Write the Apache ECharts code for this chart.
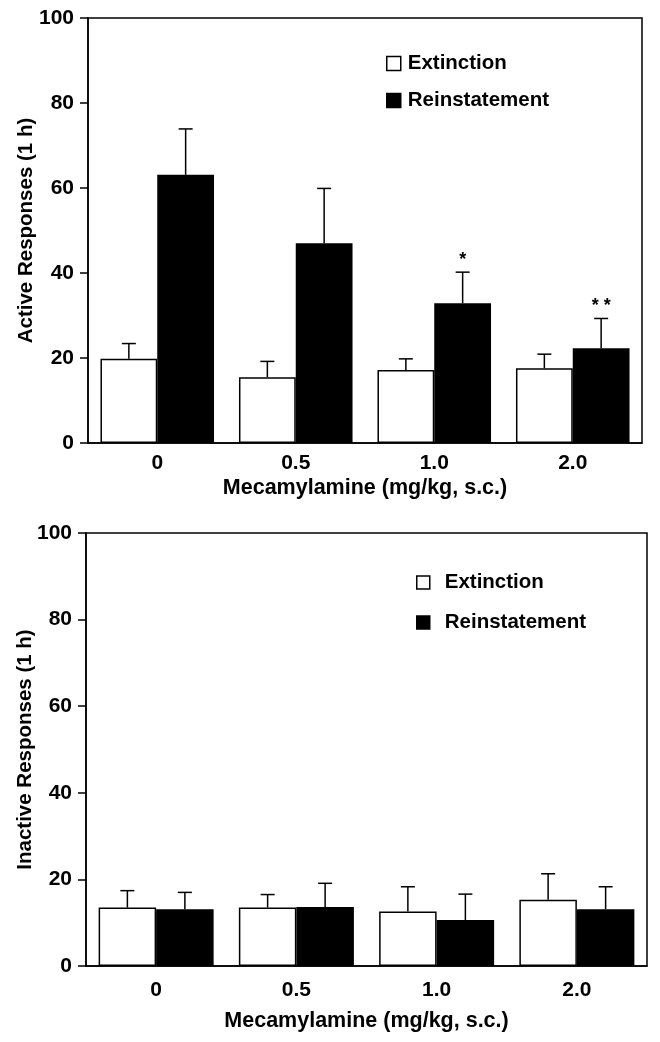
<!DOCTYPE html>
<html>
<head>
<meta charset="utf-8">
<script src="https://cdn.jsdelivr.net/npm/echarts@6/dist/echarts.min.js"></script>
<style>
html,body{margin:0;padding:0;background:#fff;}
#c{width:660px;height:1042px;}
</style>
</head>
<body>
<div id="c"></div>
<script>
var categories = ['0', '0.5', '1.0', '2.0'];
var seriesNames = ['Extinction', 'Reinstatement'];
var yTicks = [0, 20, 40, 60, 80, 100];

// Top panel: Active responses
var activeExt = [19.8, 15.5, 17.2, 17.6];
var activeExtSem = [3.6, 3.7, 2.6, 3.3];
var activeRein = [63.1, 47.0, 32.9, 22.3];
var activeReinSem = [10.8, 12.9, 7.3, 7.0];
var activeSig = ['', '', '*', '* *'];

// Bottom panel: Inactive responses
var inactiveExt = [13.5, 13.5, 12.6, 15.3];
var inactiveExtSem = [3.9, 3.0, 5.7, 6.0];
var inactiveRein = [13.1, 13.6, 10.6, 13.1];
var inactiveReinSem = [3.9, 5.5, 6.0, 5.2];
var inactiveSig = ['', '', '', ''];

var FONT = '"Liberation Sans", Arial, Helvetica, sans-serif';
var GAP = 0.18;

function errData(ext, extSem, rein, reinSem) {
  var out = [];
  for (var i = 0; i < categories.length; i++) {
    out.push([i, ext[i], extSem[i], 0]);
    out.push([i, rein[i], reinSem[i], 1]);
  }
  return out;
}

function makeRender(sigArr) {
  return function (params, api) {
    var idx = api.value(0), mean = api.value(1), sem = api.value(2), side = api.value(3);
    var base = api.coord([idx, mean]);
    var top = api.coord([idx, mean + sem]);
    var band = api.size([1, 0])[0];
    var barW = band * (1 - GAP) / 2;
    var x = base[0] + (side === 0 ? -barW / 2 : barW / 2);
    var cap = 7;
    var children = [
      {type: 'line', shape: {x1: x, y1: base[1], x2: x, y2: top[1]}, style: {stroke: '#000', lineWidth: 1.5}},
      {type: 'line', shape: {x1: x - cap, y1: top[1], x2: x + cap, y2: top[1]}, style: {stroke: '#000', lineWidth: 1.5}}
    ];
    var sig = side === 1 ? sigArr[idx] : '';
    if (sig) {
      children.push({type: 'text', style: {text: sig, x: x, y: top[1] - 3, align: 'center', verticalAlign: 'bottom',
        font: 'bold 18px ' + FONT, fill: '#000'}});
    }
    return {type: 'group', children: children};
  };
}

function yAxis(gi, name, gap) {
  return {
    type: 'value', gridIndex: gi, min: 0, max: 100, interval: 20,
    name: name, nameLocation: 'middle', nameGap: gap, nameRotate: 90, nameMoveOverlap: false,
    nameTextStyle: {fontFamily: FONT, fontWeight: 'bold', fontSize: 20.5, color: '#000'},
    axisLine: {show: true, lineStyle: {color: '#000', width: 1.5}},
    axisTick: {show: true, length: 8, lineStyle: {color: '#000', width: 1.5}},
    axisLabel: {fontFamily: FONT, fontWeight: 'bold', fontSize: 21, color: '#000', margin: 14,
      formatter: function (v) { return yTicks.indexOf(v) >= 0 ? String(v) : ''; }},
    splitLine: {show: false}
  };
}

function xAxis(gi, margin, gap) {
  return {
    type: 'category', gridIndex: gi, data: categories,
    name: 'Mecamylamine (mg/kg, s.c.)', nameLocation: 'middle', nameGap: gap,
    nameTextStyle: {fontFamily: FONT, fontWeight: 'bold', fontSize: 21.5, color: '#000'},
    axisLine: {show: true, lineStyle: {color: '#000', width: 1.5}},
    axisTick: {show: false},
    axisLabel: {fontFamily: FONT, fontWeight: 'bold', fontSize: 21, color: '#000', margin: margin},
    splitLine: {show: false}
  };
}

function barSeries(name, data, gi, fill) {
  return {
    type: 'bar', name: name, xAxisIndex: gi, yAxisIndex: gi, data: data,
    barGap: '0%', barCategoryGap: (GAP * 100) + '%',
    itemStyle: {color: fill, borderColor: '#000', borderWidth: 1.5},
    emphasis: {disabled: true}, animation: false
  };
}

function legendData() {
  return [
    {name: seriesNames[0], itemStyle: {color: '#fff', borderColor: '#000', borderWidth: 1.5}},
    {name: seriesNames[1], itemStyle: {color: '#000', borderColor: '#000', borderWidth: 1.5}}
  ];
}

var option = {
  backgroundColor: '#fff',
  animation: false,
  grid: [
    {left: 88, top: 18, width: 554, height: 425, show: true, borderColor: '#000', borderWidth: 1.5, containLabel: false},
    {left: 86, top: 533, width: 561, height: 433, show: true, borderColor: '#000', borderWidth: 1.5, containLabel: false}
  ],
  legend: [
    {left: 386, top: 53, padding: 0, orient: 'vertical', icon: 'rect', itemWidth: 14, itemHeight: 14, itemGap: 16, selectedMode: false,
      textStyle: {fontFamily: FONT, fontWeight: 'bold', fontSize: 20.5, color: '#000', padding: [0, 0, 0, 2]},
      data: legendData()},
    {left: 416, top: 572, padding: 0, orient: 'vertical', icon: 'rect', itemWidth: 13, itemHeight: 13, itemGap: 19, selectedMode: false,
      textStyle: {fontFamily: FONT, fontWeight: 'bold', fontSize: 20.5, color: '#000', padding: [0, 0, 0, 10]},
      data: legendData()}
  ],
  xAxis: [xAxis(0, 10, 34), xAxis(1, 14, 44)],
  yAxis: [yAxis(0, 'Active Responses (1 h)', 51), yAxis(1, 'Inactive Responses (1 h)', 50)],
  series: [
    barSeries(seriesNames[0], activeExt, 0, '#fff'),
    barSeries(seriesNames[1], activeRein, 0, '#000'),
    barSeries(seriesNames[0], inactiveExt, 1, '#fff'),
    barSeries(seriesNames[1], inactiveRein, 1, '#000'),
    {type: 'custom', name: 'err1', xAxisIndex: 0, yAxisIndex: 0, z: 5, renderItem: makeRender(activeSig),
      data: errData(activeExt, activeExtSem, activeRein, activeReinSem), silent: true},
    {type: 'custom', name: 'err2', xAxisIndex: 1, yAxisIndex: 1, z: 5, renderItem: makeRender(inactiveSig),
      data: errData(inactiveExt, inactiveExtSem, inactiveRein, inactiveReinSem), silent: true}
  ]
};

var chart = echarts.init(document.getElementById('c'), null, {renderer: 'canvas'});
chart.setOption(option);
</script>
</body>
</html>
